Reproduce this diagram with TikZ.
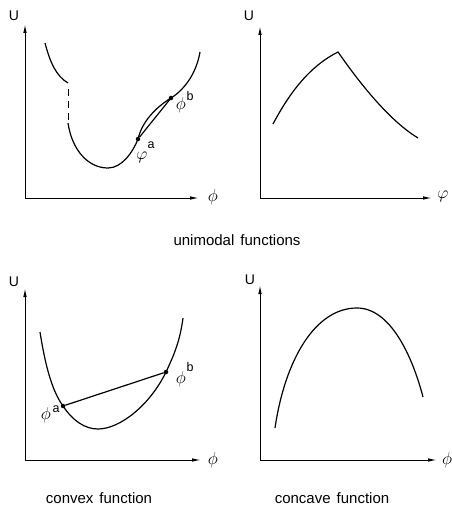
\documentclass[tikz,border=0pt]{standalone}
\usepackage{fontspec}
\setmainfont{Liberation Sans}
\usetikzlibrary{arrows.meta}

\begin{document}
\begin{tikzpicture}[
    x=1pt, y=-1pt,
    axis/.style={-{Latex[length=9pt,width=3.5pt]}, line width=1pt},
    curve/.style={line width=1.2pt},
    axislabel/.style={font=\fontsize{14}{14}\selectfont, inner sep=0pt},
    varlabel/.style={font=\fontsize{17}{17}\selectfont, inner sep=0pt},
    suplabel/.style={font=\fontsize{12.5}{13}\selectfont, inner sep=0pt},
    caption/.style={font=\fontsize{15}{16}\selectfont, inner sep=0pt},
    dot/.style={circle, fill, inner sep=0pt, minimum size=4.5pt}
]
\useasboundingbox (0,0) rectangle (451,508);

% TOP LEFT: UNIMODAL WITH JUMP
\coordinate (o1) at (25,198);
\coordinate (ytop1) at (25,24);
\coordinate (xend1) at (199,198);
\draw[axis] (o1) -- (ytop1);
\draw[axis] (o1) -- (xend1);
\node[axislabel] (u1) at (14,16) {U};
\node[varlabel] (phi1) at (213,197) {$\phi$};

\draw[curve] (45,43) .. controls (50,62) and (56,76) .. (68,83);
\draw[line width=1pt, dash pattern=on 7pt off 5pt] (68,89) -- (68,122);
\node[dot] (pa1) at (138,139) {};
\node[dot] (pb1) at (171,98) {};
\draw[curve] (68,123) .. controls (72,150) and (88,168) .. (108,168)
    .. controls (122,168) and (133,152) .. (pa1.center)
    .. controls (142,122) and (155,108) .. (pb1.center)
    .. controls (187,88) and (197,70) .. (200,52);
\draw[curve] (pa1) -- (pb1);
\node[varlabel] (la1) at (142,157) {$\varphi$};
\node[suplabel] (sa1) at (151,145) {a};
\node[varlabel] (lb1) at (181,105) {$\phi$};
\node[suplabel] (sb1) at (190,96) {b};

% TOP RIGHT: UNIMODAL WITH KINK
\coordinate (o2) at (260,198);
\coordinate (ytop2) at (260,26);
\coordinate (xend2) at (432,198);
\draw[axis] (o2) -- (ytop2);
\draw[axis] (o2) -- (xend2);
\node[axislabel] (u2) at (249,16) {U};
\node[varlabel] (phi2) at (443,196) {$\varphi$};

\draw[curve] (273,124) .. controls (290,92) and (310,66) .. (338,52)
    .. controls (352,72) and (385,118) .. (418,138);

\node[caption] (cap1) at (237,240) {unimodal\hspace{6pt}functions};

% BOTTOM LEFT: CONVEX
\coordinate (o3) at (25,460);
\coordinate (ytop3) at (25,288);
\coordinate (xend3) at (201,460);
\draw[axis] (o3) -- (ytop3);
\draw[axis] (o3) -- (xend3);
\node[axislabel] (u3) at (14,282) {U};
\node[varlabel] (phi3) at (213,460) {$\phi$};

\node[dot] (pa3) at (63,406) {};
\node[dot] (pb3) at (166,372) {};
\draw[curve] (40,332) .. controls (46,370) and (53,392) .. (pa3.center)
    .. controls (73,421) and (85,429) .. (98,429)
    .. controls (120,429) and (150,405) .. (pb3.center)
    .. controls (175,353) and (180,340) .. (183,318);
\draw[curve] (pa3) -- (pb3);
\node[varlabel] (la3) at (46,415) {$\phi$};
\node[suplabel] (sa3) at (56,409) {a};
\node[varlabel] (lb3) at (181,379) {$\phi$};
\node[suplabel] (sb3) at (190,367) {b};

\node[caption] (cap3) at (99,498) {convex\hspace{6pt}function};

% BOTTOM RIGHT: CONCAVE
\coordinate (o4) at (260,460);
\coordinate (ytop4) at (260,285);
\coordinate (xend4) at (437,460);
\draw[axis] (o4) -- (ytop4);
\draw[axis] (o4) -- (xend4);
\node[axislabel] (u4) at (250,280) {U};
\node[varlabel] (phi4) at (447,460) {$\phi$};

\draw[curve] (275,428) .. controls (285,360) and (315,308) .. (357,308)
    .. controls (390,308) and (412,355) .. (423,397);

\node[caption] (cap4) at (332,498) {concave\hspace{6pt}function};

\end{tikzpicture}
\end{document}
